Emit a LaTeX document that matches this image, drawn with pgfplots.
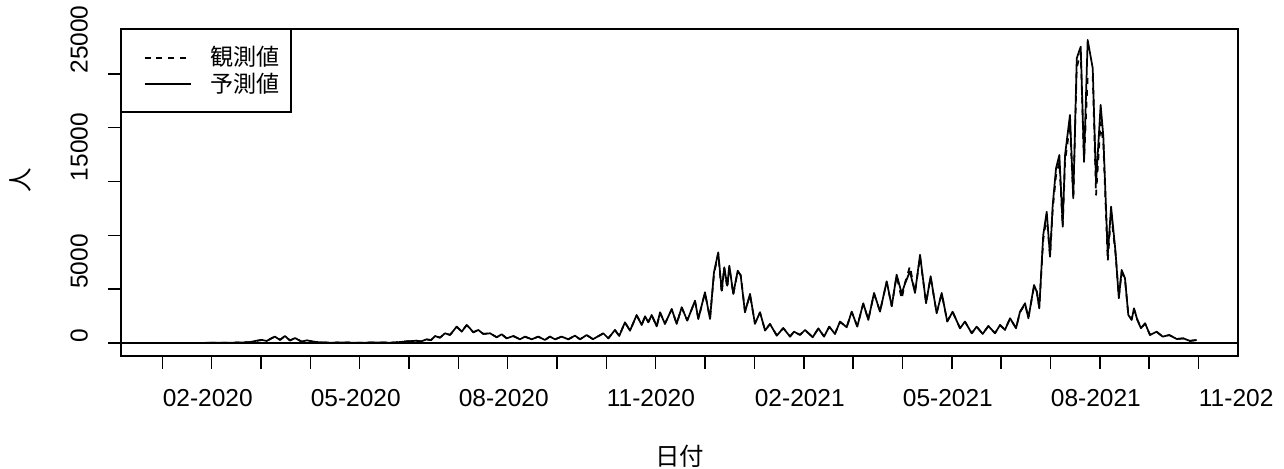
\documentclass[border=0pt]{standalone}
\usepackage{fontspec}
\setmainfont{Liberation Sans}
\newfontfamily\cjk{Noto Sans CJK JP}
\usepackage{pgfplots}
\usepackage{pgfplotstable}
\pgfplotsset{compat=1.18}

\pgfplotstableread{
d pred obs
0 0 0
14.3 5 5
26.9 10 10
39.6 20 20
49.1 40 40
55.4 80 80
59.2 200 190
63.0 280 290
66.0 186 190
68.7 420 400
71.2 590 600
74.4 280 290
77.5 650 640
80.7 230 240
83.9 460 450
88.1 120 130
91.4 250 240
95.4 120 120
99.7 60 60
106.0 30 30
115.5 40 40
125.0 20 20
134.4 50 50
143.9 30 30
148.3 60 60
154.5 150 150
160.8 210 200
163.5 140 150
167.1 340 330
169.9 260 270
172.4 650 640
175.5 490 500
178.7 900 880
181.9 745 760
186.1 1520 1500
189.3 1050 1070
192.4 1670 1650
194.5 1360 1380
196.6 990 1000
199.8 1210 1200
202.9 840 850
207.2 900 890
211.4 530 540
214.6 810 800
217.7 430 440
221.9 650 640
226.1 340 350
229.3 590 580
233.5 340 350
237.7 590 580
241.9 280 290
245.1 590 600
248.3 340 330
252.5 590 600
256.7 340 350
260.9 680 670
264.1 340 350
268.3 740 730
272.3 350 360
278.8 900 880
282.0 430 440
286.2 1210 1190
288.9 650 660
292.5 1920 1900
295.7 1140 1160
299.9 2600 2560
303.1 1670 1700
305.2 2480 2450
307.3 1920 1950
309.4 2600 2580
312.6 1540 1560
314.7 2850 2820
317.8 1770 1800
322.1 3160 3120
325.2 1770 1800
328.4 3320 3280
331.9 2080 2100
336.8 3930 3880
338.9 2230 2260
343.1 4710 4650
346.3 2230 2300
348.8 6570 6400
351.5 8420 8300
353.7 4860 4600
355.3 7030 7000
357.2 5320 5100
358.5 7180 7100
361.0 4560 4500
363.8 6720 6650
365.7 6260 6300
368.4 2850 2950
371.6 4560 4450
374.7 1770 1850
377.9 2860 2800
381.1 1150 1200
384.2 1770 1750
388.5 680 720
392.6 1390 1370
396.9 590 610
399.4 1050 1040
403.2 750 760
406.4 1210 1200
411.2 530 550
414.8 1360 1340
418.4 590 610
421.7 1520 1500
425.3 840 860
428.5 1990 1950
432.7 1460 1480
435.9 2910 2870
439.4 1520 1560
443.2 3690 3640
446.4 2140 2180
450.0 4650 4580
453.8 2910 2950
458.0 5730 5650
461.2 3410 3450
464.3 6350 6250
467.5 4600 4090
469.6 5510 5600
472.7 6660 7120
475.9 4650 4700
479.1 8200 8000
482.9 3690 3750
485.8 6200 6100
489.6 2760 2800
492.8 4650 4580
496.3 1990 2020
499.7 2910 2880
504.4 1360 1380
507.5 1990 1970
511.8 900 920
514.9 1520 1500
518.7 840 860
522.3 1580 1560
526.5 900 920
529.7 1670 1650
532.8 1210 1230
536.0 2300 2260
539.8 1370 1400
542.3 2900 2850
545.5 3690 3600
547.6 2295 2350
551.2 5390 5250
552.9 4770 4800
554.5 3220 3300
557.0 10040 9600
559.2 12200 11800
561.3 8020 8100
563.0 12830 12400
565.1 16240 15600
567.2 17470 16800
569.3 10970 10800
570.8 17470 16900
573.9 21190 20260
576.0 13450 13450
578.2 26460 25600
580.7 27540 27000
582.8 16850 16850
585.1 28160 24700
588.3 25530 24800
590.4 14900 13760
593.3 22120 20500
595.0 19200 18500
597.8 8180 7600
599.9 12670 12000
602.7 8490 8300
604.8 4150 4300
606.6 6785 6600
608.7 6010 5900
610.8 2600 2650
612.9 2140 2200
614.4 3220 3150
616.5 2140 2180
618.8 1370 1400
621.4 1830 1800
624.5 740 760
628.7 1050 1030
632.5 590 600
636.7 740 730
641.4 370 380
645.6 430 420
649.8 190 200
654.0 280 270
}\covid

\begin{document}
\begin{tikzpicture}
\begin{scope}
\clip (-59.29pt,-55.37pt) rectangle (564.0pt,174.44pt);
\begin{axis}[
  scale only axis,
  width=547.33pt, height=160.23pt,
  xmin=-26.16, xmax=680.16,
  ymin=-1210, ymax=29180,
  axis line style={line width=0.7pt},
  tick align=outside, tick pos=left,
  major tick length=6.4pt,
  tick style={black, line width=0.7pt},
  xtick={0,31.2,62.4,93.6,124.8,156,187.2,218.4,249.6,280.8,312,343.2,374.4,405.6,436.8,468,499.2,530.4,561.6,592.8,624,655.2},
  xticklabels={02-2020,,,05-2020,,,08-2020,,,11-2020,,,02-2021,,,05-2021,,,08-2021,,,11-2021},
  xticklabel style={yshift=-9.8pt, anchor=north west, inner sep=0pt, font=\fontsize{12}{14}\selectfont},
  ytick={0,5000,10000,15000,20000,25000},
  yticklabels={0,5000,,15000,,25000},
  yticklabel style={xshift=-10pt, rotate=90, anchor=base west, inner sep=0pt, font=\fontsize{12}{14}\selectfont},
  scaled y ticks=false,
  /pgf/number format/assume math mode=true,
  xlabel={\cjk 日付}, ylabel={\cjk 人},
  xlabel style={at={(axis description cs:0.5,-0.3058)}, anchor=center, font=\fontsize{12}{14}\selectfont},
  ylabel style={at={(axis description cs:-0.0904,0.538)}, anchor=center, font=\fontsize{12}{14}\selectfont},
  legend cell align=left,
  legend style={at={(0,1)}, anchor=north west, draw=black, line width=0.7pt,
    inner xsep=5.4pt, inner ysep=8.2pt, row sep=2pt, column sep=9.5pt,
    font=\cjk\fontsize{11.3}{13}\selectfont, nodes={inner sep=0pt}},
  legend image code/.code={\path (0pt,0pt); \draw[#1] (5.4pt,0pt) -- (27.9pt,0pt);},
]
\addplot[black, line width=0.7pt, forget plot] coordinates {(-26.16,0) (680.16,0)};
\addplot[black, line width=0.85pt, line join=round, dash pattern=on 2.9pt off 2.9pt] table[x=d, y=obs] {\covid};
\addplot[black, line width=0.85pt, line join=round] table[x=d, y=pred] {\covid};
\legend{観測値, 予測値}
\end{axis}
\end{scope}
\pgfresetboundingbox
\path[use as bounding box] (-59.29pt,-55.37pt) rectangle (569.87pt,174.44pt);
\end{tikzpicture}
\end{document}
